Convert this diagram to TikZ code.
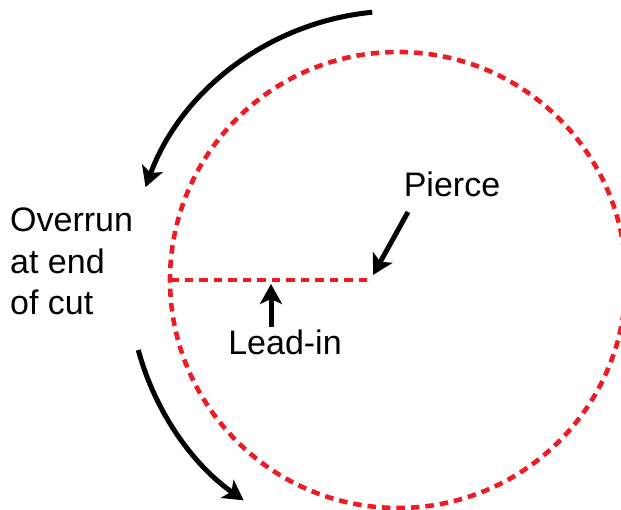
\documentclass[tikz,border=0pt]{standalone}
\usepackage{fontspec}
\setmainfont{Liberation Sans}
\usetikzlibrary{arrows.meta}
\definecolor{cutred}{RGB}{237,28,36}

\begin{document}
\begin{tikzpicture}[
      x=1pt, y=1pt,
      every node/.style={inner sep=0pt, font=\fontsize{34}{41.5}\selectfont},
      cutpath/.style={draw=cutred, line width=4.6pt, dash pattern=on 8.5pt off 6pt},
      pointer/.style={draw, line width=5pt, -{Stealth[length=20pt, width=22pt, inset=5pt]}}
    ]
    \useasboundingbox (0,0) rectangle (621,510);
    \clip (0,0) rectangle (621,510);
    % part outline and lead-in
    \coordinate (centre) at (398,230);
    \coordinate (start) at (170,230);
    \coordinate (pierce) at (368,230);
    \draw[cutpath] (centre) circle[radius=228];
    \draw[cutpath] (start) -- (pierce);
    % labels
    \node[anchor=base] (piercelabel) at (452,313) {Pierce};
    \node[anchor=base] (leadlabel) at (285,155) {Lead-in};
    \node[anchor=base west, align=left] (overrun) at (10,195) {Overrun\\at end\\of cut};
    \coordinate (piercefrom) at (408,298);
    \coordinate (piercetip) at (373,235);
    \coordinate (leadfrom) at (271,183);
    \coordinate (leadtip) at (271,226);
    \draw[pointer] (piercefrom) -- (piercetip);
    \draw[pointer] (leadfrom) -- (leadtip);
    % direction of travel
    \draw[pointer] ([shift={(95.5:269)}]centre) arc[start angle=95.5, end angle=159.8, radius=269];
    \draw[pointer] ([shift={(195.1:269)}]centre) arc[start angle=195.1, end angle=235, radius=269];
\end{tikzpicture}
\end{document}
